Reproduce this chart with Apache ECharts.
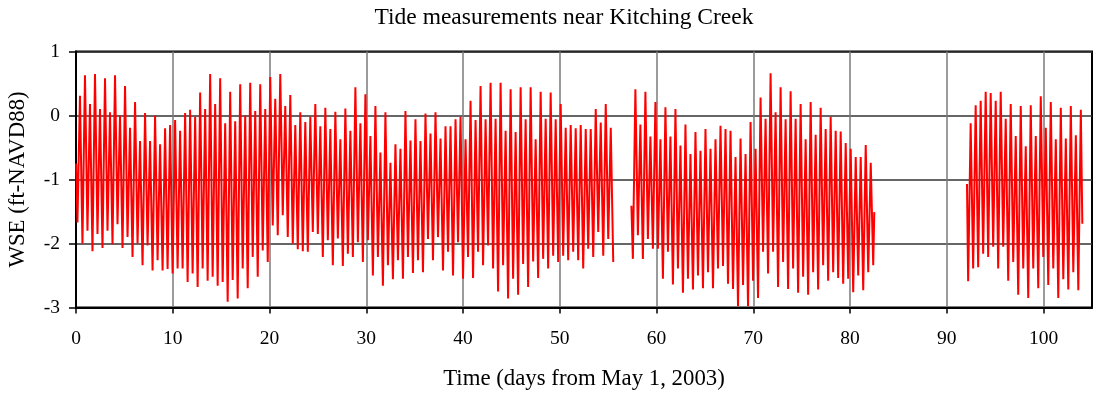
<!DOCTYPE html>
<html>
<head>
<meta charset="utf-8">
<title>Tide measurements near Kitching Creek</title>
<script src="https://cdn.jsdelivr.net/npm/echarts@6/dist/echarts.min.js"></script>
<style>
  html, body { margin: 0; padding: 0; background: #fff; }
  #chart { width: 1094px; height: 393px; }
</style>
</head>
<body>
<div id="chart"></div>
<script>
// Water surface elevation (ft, NAVD88), one low and one high per tidal cycle.
// Time is days from May 1, 2003; each record starts at its own day.
const cyclePeriod = 0.5175;   // days per semidiurnal cycle
const riseTime = 0.26;        // days from a low to the following high

const xTicks = [0, 10, 20, 30, 40, 50, 60, 70, 80, 90, 100];
const yTicks = [-3, -2, -1, 0, 1];

// Record 1: day 0 to 55.6
const rec1Start = 0.15;
const rec1Lead = [0.02, -0.75];
const rec1Lows = [
  -1.67, -2.00, -1.80, -2.12, -1.85, -2.07, -1.80, -2.01, -1.70, -2.07,
  -1.90, -2.21, -2.00, -2.34, -2.03, -2.42, -2.26, -2.42, -2.40, -2.47,
  -2.39, -2.39, -2.60, -2.47, -2.68, -2.39, -2.58, -2.52, -2.66, -2.60,
  -2.91, -2.57, -2.86, -2.39, -2.70, -2.21, -2.52, -2.11, -2.29, -1.72,
  -1.87, -1.56, -1.90, -2.00, -2.09, -2.12, -2.13, -1.82, -1.85, -2.21,
  -1.95, -2.34, -1.92, -2.35, -2.16, -2.21, -1.98, -2.29, -1.95, -2.50,
  -2.21, -2.66, -2.34, -2.56, -2.26, -2.55, -2.21, -2.46, -2.26, -2.45,
  -1.93, -2.26, -1.90, -2.42, -2.13, -2.50, -1.98, -2.55, -2.21, -2.54,
  -2.13, -2.34, -2.03, -2.39, -2.75, -2.34, -2.86, -2.55, -2.80, -2.32,
  -2.68, -2.28, -2.54, -2.24, -2.39, -2.19, -2.29, -2.19, -2.26, -2.13,
  -2.26, -2.39, -2.08, -2.21, -1.82, -2.19, -1.93, -2.29
];
const rec1Highs = [
   0.31,  0.63,  0.18,  0.65,  0.10,  0.58,  0.05,  0.63,  0.00,  0.46,
  -0.19,  0.21, -0.40,  0.04, -0.40,  0.00, -0.45, -0.20, -0.15, -0.07,
  -0.24,  0.04,  0.09, -0.02,  0.36,  0.10,  0.65,  0.18,  0.58, -0.12,
   0.37, -0.09,  0.49,  0.00,  0.51,  0.07,  0.49,  0.10,  0.60,  0.26,
   0.65,  0.15,  0.32, -0.15,  0.05, -0.10, -0.02,  0.18, -0.17,  0.12,
  -0.21,  0.06, -0.37,  0.11, -0.24,  0.44, -0.12,  0.33, -0.32,  0.15,
  -0.58,  0.05, -0.74, -0.45, -0.52,  0.07, -0.39, -0.06, -0.40,  0.03,
  -0.28,  0.05, -0.36, -0.17, -0.17, -0.06, -0.02, -0.37,  0.23, -0.07,
   0.46, -0.06,  0.51, -0.05,  0.51, -0.24,  0.41, -0.26,  0.44, -0.06,
   0.44, -0.37,  0.37, -0.05,  0.36, -0.06,  0.18, -0.19, -0.15, -0.20,
  -0.15, -0.21, -0.21,  0.10, -0.11,  0.18, -0.19
];

// Record 2: day 57.4 to 82.5
const rec2Start = 57.55;
const rec2Lead = [57.4, -1.41];
const rec2Tail = [82.5, -1.51];
const rec2Lows = [
  -2.24, -1.87, -2.24, -1.93, -2.08, -2.08, -2.55, -2.13, -2.64, -2.39,
  -2.77, -2.55, -2.72, -2.50, -2.70, -2.45, -2.70, -2.39, -2.35, -2.63,
  -2.71, -2.98, -2.65, -2.98, -2.58, -2.85, -2.13, -2.47, -2.13, -2.68,
  -2.29, -2.71, -2.39, -2.77, -2.52, -2.80, -2.45, -2.72, -2.34, -2.58,
  -2.45, -2.54, -2.63, -2.55, -2.76, -2.50, -2.73, -2.45, -2.34
];
const rec2Highs = [
   0.41, -0.14,  0.37, -0.33,  0.21, -0.37,  0.13, -0.33,  0.10, -0.47,
  -0.14, -0.60, -0.26, -0.55, -0.21, -0.52, -0.37, -0.16, -0.21, -0.24,
  -0.65, -0.36, -0.60, -0.10, -0.52,  0.28, -0.05,  0.66,  0.05,  0.44,
  -0.06,  0.38, -0.05,  0.18, -0.37,  0.21, -0.30,  0.12, -0.21, -0.02,
  -0.24, -0.25, -0.43, -0.52, -0.65, -0.65, -0.46, -0.74
];

// Record 3: day 92.1 to 104.0
const rec3Start = 92.2;
const rec3Lead = [92.08, -1.07];
const rec3Tail = [104.0, -1.69];
const rec3Lows = [
  -2.59, -2.39, -2.37, -2.16, -2.21, -2.05, -2.39, -2.05, -2.58, -2.29,
  -2.80, -2.39, -2.85, -2.39, -2.70, -2.21, -2.65, -2.39, -2.85, -2.56,
  -2.72, -2.45, -2.73
];
const rec3Highs = [
  -0.12,  0.16,  0.23,  0.37,  0.35,  0.23,  0.37, -0.05,  0.18, -0.32,
   0.15, -0.48,  0.16, -0.32,  0.30, -0.19,  0.21, -0.37,  0.12, -0.36,
   0.15, -0.31,  0.09
];

// Interleave lows and highs of one record into [day, WSE] pairs.
function record(t0, lows, highs, lead, tail) {
  const pts = [];
  if (lead) pts.push(lead);
  lows.forEach(function (lo, i) {
    const t = t0 + i * cyclePeriod;
    pts.push([t, lo]);
    if (i < highs.length) pts.push([t + riseTime, highs[i]]);
  });
  if (tail) pts.push(tail);
  return pts;
}

const serif = '"Liberation Serif", "Times New Roman", serif';
const lineStyle = { color: '#ff0000', width: 2 };

function tideSeries(data) {
  return {
    type: 'line',
    data: data,
    showSymbol: false,
    symbol: 'none',
    lineStyle: lineStyle,
    itemStyle: { color: '#ff0000' },
    silent: true,
    clip: true
  };
}

const chart = echarts.init(document.getElementById('chart'), null, { renderer: 'canvas' });
chart.setOption({
  animation: false,
  backgroundColor: '#ffffff',
  title: {
    text: 'Tide measurements near Kitching Creek',
    left: 559,
    top: 1,
    textAlign: 'center',
    textStyle: { fontFamily: serif, fontSize: 23.5, fontWeight: 'normal', color: '#000' }
  },
  grid: {
    left: 76, right: 2, top: 51.5, bottom: 85.5,
    outerBoundsMode: 'none',
    containLabel: false,
    show: true, borderColor: '#000', borderWidth: 2, backgroundColor: 'transparent'
  },
  xAxis: {
    type: 'value',
    min: 0, max: 105, interval: 10,
    name: 'Time (days from May 1, 2003)',
    nameLocation: 'middle',
    nameGap: 60,
    nameTextStyle: { fontFamily: serif, fontSize: 22.8, color: '#000' },
    axisLine: { show: true, onZero: false, lineStyle: { color: '#000', width: 2 } },
    axisTick: { show: true, length: 6, inside: false, customValues: xTicks, lineStyle: { color: '#000', width: 1.5 } },
    axisLabel: { customValues: xTicks, margin: 21, fontFamily: serif, fontSize: 19.5, color: '#000' },
    splitLine: { show: true, lineStyle: { color: '#7a7a7a', width: 1.5 } }
  },
  yAxis: {
    type: 'value',
    min: -3, max: 1, interval: 1,
    name: 'WSE (ft-NAVD88)',
    nameLocation: 'middle',
    nameGap: 46.5,
    nameTextStyle: { fontFamily: serif, fontSize: 22.8, color: '#000' },
    axisLine: { show: true, lineStyle: { color: '#000', width: 2 } },
    axisTick: { show: true, length: 7, inside: false, customValues: yTicks, lineStyle: { color: '#000', width: 1.5 } },
    axisLabel: { margin: 16, fontFamily: serif, fontSize: 19.5, color: '#000' },
    splitLine: { show: true, lineStyle: { color: '#333', width: 1.5 } }
  },
  series: [
    tideSeries(record(rec1Start, rec1Lows, rec1Highs, rec1Lead, null)),
    tideSeries(record(rec2Start, rec2Lows, rec2Highs, rec2Lead, rec2Tail)),
    tideSeries(record(rec3Start, rec3Lows, rec3Highs, rec3Lead, rec3Tail))
  ]
});
</script>
</body>
</html>
